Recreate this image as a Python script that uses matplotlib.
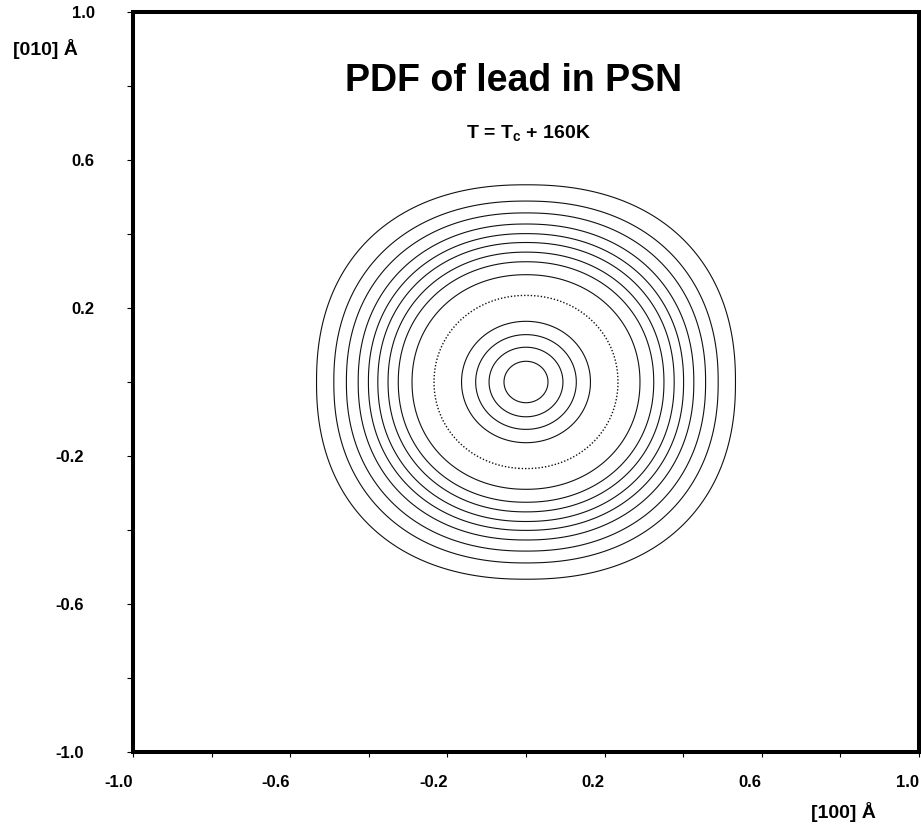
import numpy as np
import matplotlib
matplotlib.use("Agg")
import matplotlib.pyplot as plt
import matplotlib.transforms as mtransforms

plt.rcParams['font.family'] = ['Liberation Sans', 'DejaVu Sans']
plt.rcParams['font.weight'] = 'bold'
plt.rcParams['mathtext.fontset'] = 'custom'
plt.rcParams['mathtext.rm'] = 'Liberation Sans:bold'
plt.rcParams['mathtext.bf'] = 'Liberation Sans:bold'

# contour "radii" (A), outer -> inner
solid_levels = [0.533, 0.489, 0.457, 0.427, 0.401, 0.377, 0.351, 0.325, 0.290,
                0.164, 0.128, 0.094, 0.056]
dotted_levels = [0.234]
# squareness of the outer contours (superellipse exponent at the outermost level)
outer_exp = 2.25

major_ticks = [-1.0, -0.6, -0.2, 0.2, 0.6, 1.0]
minor_ticks = [-0.8, -0.4, 0.0, 0.4, 0.8]
tick_labels = ['-1.0', '-0.6', '-0.2', '0.2', '0.6', '1.0']

# field whose level sets look like the PDF contours (round inside, squarish outside)
g = np.linspace(-1, 1, 601)
X, Y = np.meshgrid(g, g)
R = np.hypot(X, Y)
P = 2 + (outer_exp - 2) * (R / max(solid_levels)) ** 2
F = (np.abs(X) ** P + np.abs(Y) ** P) ** (1 / P)

fig = plt.figure(figsize=(9.21, 8.27), dpi=100)
ax = fig.add_axes([133 / 921, 75 / 827, 786 / 921, 740 / 827])

ax.contour(X, Y, F, levels=sorted(solid_levels), colors='#111111', linewidths=0.8)
ax.contour(X, Y, F, levels=dotted_levels, colors='#111111', linewidths=1.0,
           linestyles=[(0, (1, 1.4))])

ax.set_xlim(-1, 1)
ax.set_ylim(-1, 1)
ax.set_xticks(major_ticks)
ax.set_xticklabels(tick_labels, ha='right')
ax.set_xticks(minor_ticks, minor=True)
ax.set_yticks(major_ticks)
ax.set_yticklabels(tick_labels)
ax.set_yticks(minor_ticks, minor=True)

for s in ax.spines.values():
    s.set_linewidth(2.9)
ax.tick_params(axis='both', which='both', direction='out', width=0.8, labelsize=12)
ax.tick_params(axis='x', which='both', length=3.8, pad=13)
ax.tick_params(axis='y', which='both', length=4.5, pad=23)

# negative y labels sit further left in the original
for lab in ax.get_yticklabels():
    if lab.get_text().startswith('-'):
        lab.set_transform(lab.get_transform() +
                          mtransforms.ScaledTranslation(-11 / 100, 0, fig.dpi_scale_trans))

fig.text(513.5 / 921, 1 - 91 / 827, 'PDF of lead in PSN', ha='center', va='baseline',
         fontsize=27, fontweight='bold')
fig.text(528 / 921, 1 - 139 / 827, r'T = T$_{\mathbf{c}}$ + 160K', ha='center',
         va='baseline', fontsize=14, fontweight='bold')
fig.text(45 / 921, 1 - 55 / 827, '[010] Å', ha='center', va='baseline',
         fontsize=14, fontweight='bold')
fig.text(843 / 921, 1 - 818 / 827, '[100] Å', ha='center', va='baseline',
         fontsize=14, fontweight='bold')

fig.savefig('out.png', dpi=100)
